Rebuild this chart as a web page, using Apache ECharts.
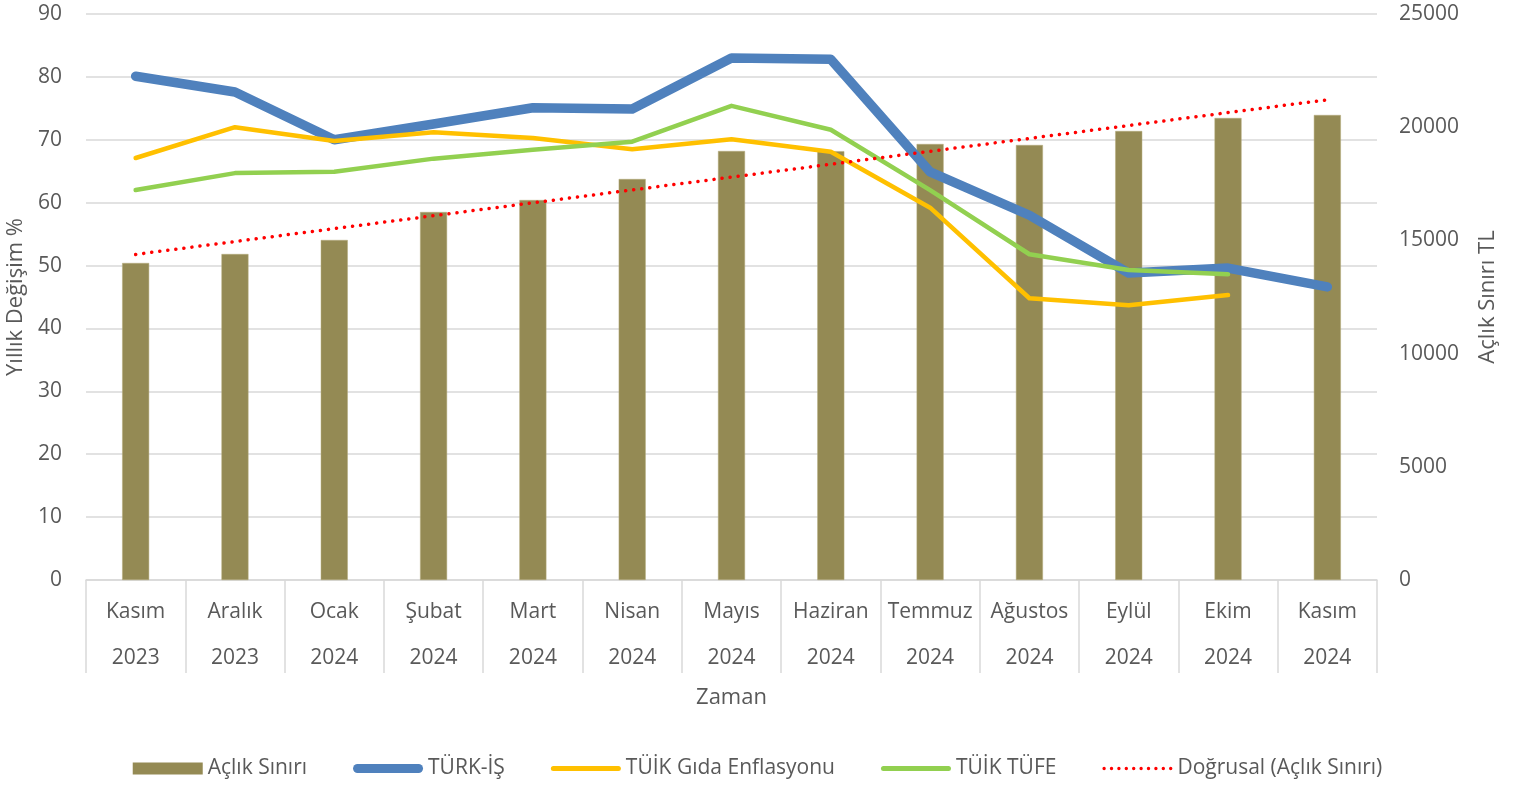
<!DOCTYPE html>
<html>
<head>
<meta charset="utf-8">
<script src="https://cdn.jsdelivr.net/npm/echarts@6/dist/echarts.min.js"></script>
<style>
  html, body { margin: 0; padding: 0; background: #fff; }
  #chart { width: 1515px; height: 788px; }
</style>
</head>
<body>
<div id="chart"></div>
<script>
// veriler (grafikten okunan yaklaşık değerler)
const months = ['Kasım', 'Aralık', 'Ocak', 'Şubat', 'Mart', 'Nisan', 'Mayıs', 'Haziran', 'Temmuz', 'Ağustos', 'Eylül', 'Ekim', 'Kasım'];
const years = ['2023', '2023', '2024', '2024', '2024', '2024', '2024', '2024', '2024', '2024', '2024', '2024', '2024'];
const aclikSiniri = [14003, 14399, 15018, 16254, 16784, 17712, 18949, 18940, 19258, 19214, 19832, 20406, 20539];
const turkIs = [80.1, 77.6, 70.0, 72.5, 75.1, 74.9, 83.0, 82.8, 64.9, 58.0, 48.8, 49.6, 46.6];
const gidaEnflasyonu = [67.1, 72.0, 69.8, 71.2, 70.3, 68.5, 70.1, 68.1, 59.2, 44.8, 43.7, 45.3, null];
const tufe = [62.0, 64.7, 64.9, 67.0, 68.4, 69.7, 75.4, 71.6, 62.0, 51.8, 49.3, 48.6, null];
const dogrusal = [14380, 14950, 15520, 16090, 16660, 17230, 17795, 18365, 18935, 19505, 20075, 20645, 21210];

const textColor = '#595959';
const gridColor = '#d9d9d9';
const fontFamily = '"Open Sans", "Noto Sans", sans-serif';

// legend simgeleri
const thickLine = 'path://M4.5,0 L65.5,0 A4.5,4.5 0 0 1 65.5,9 L4.5,9 A4.5,4.5 0 0 1 4.5,0 Z';
const thinLine = 'path://M2.5,0 L67.5,0 A2.5,2.5 0 0 1 67.5,5 L2.5,5 A2.5,2.5 0 0 1 2.5,0 Z';
let dots = 'path://';
for (let i = 0; i < 10; i++) {
    const x = i * 7.4;
    dots += 'M' + x + ',1.7 a1.7,1.7 0 1 0 3.4,0 a1.7,1.7 0 1 0 -3.4,0 Z ';
}

const chart = echarts.init(document.getElementById('chart'));

const option = {
    animation: false,
    textStyle: { fontFamily: fontFamily, color: textColor },
    grid: { left: 86, right: 138, top: 14, bottom: 208, outerBoundsMode: 'none' },
    legend: {
        top: 753,
        left: 'center',
        itemWidth: 70,
        itemHeight: 12,
        itemGap: 46,
        itemStyle: { borderWidth: 0 },
        textStyle: { fontSize: 21, color: textColor, fontFamily: fontFamily },
        data: [
            { name: 'Açlık Sınırı', icon: 'rect' },
            { name: 'TÜRK-İŞ', icon: thickLine },
            { name: 'TÜİK Gıda Enflasyonu', icon: thinLine },
            { name: 'TÜİK TÜFE', icon: thinLine },
            { name: 'Doğrusal (Açlık Sınırı)', icon: dots }
        ]
    },
    xAxis: {
        type: 'category',
        data: months.map((m, i) => m + '\n' + years[i]),
        boundaryGap: true,
        name: 'Zaman',
        nameLocation: 'middle',
        nameGap: 107,
        nameTextStyle: { fontSize: 22, color: textColor },
        axisLine: { lineStyle: { color: gridColor, width: 1.5 } },
        axisTick: { show: true, interval: 0, length: 93, lineStyle: { color: gridColor, width: 1.5 } },
        axisLabel: { interval: 0, fontSize: 21, color: textColor, lineHeight: 46, margin: 9 }
    },
    yAxis: [
        {
            type: 'value',
            min: 0,
            max: 90,
            interval: 10,
            name: 'Yıllık Değişim %',
            nameLocation: 'middle',
            nameRotate: 90,
            nameGap: 59,
            nameTextStyle: { fontSize: 22, color: textColor },
            axisLabel: { fontSize: 21, color: textColor, margin: 24 },
            splitLine: { lineStyle: { color: gridColor, width: 1.5 } }
        },
        {
            type: 'value',
            min: 0,
            max: 25000,
            interval: 5000,
            name: 'Açlık Sınırı TL',
            nameLocation: 'middle',
            nameRotate: 90,
            nameGap: 100,
            nameTextStyle: { fontSize: 22, color: textColor },
            axisLabel: { fontSize: 21, color: textColor, margin: 22, formatter: v => String(v) },
            splitLine: { show: false }
        }
    ],
    series: [
        {
            name: 'Açlık Sınırı',
            type: 'bar',
            yAxisIndex: 1,
            data: aclikSiniri,
            barWidth: 27,
            itemStyle: { color: '#948A54', borderColor: '#b5ab7a', borderWidth: 0.5 }
        },
        {
            name: 'TÜRK-İŞ',
            type: 'line',
            yAxisIndex: 0,
            data: turkIs,
            symbol: 'none',
            lineStyle: { color: '#4F81BD', width: 9.5, cap: 'round', join: 'round' },
            itemStyle: { color: '#4F81BD' }
        },
        {
            name: 'TÜİK Gıda Enflasyonu',
            type: 'line',
            yAxisIndex: 0,
            data: gidaEnflasyonu,
            symbol: 'none',
            lineStyle: { color: '#FFC000', width: 4.5, cap: 'round', join: 'round' },
            itemStyle: { color: '#FFC000' }
        },
        {
            name: 'TÜİK TÜFE',
            type: 'line',
            yAxisIndex: 0,
            data: tufe,
            symbol: 'none',
            lineStyle: { color: '#92D050', width: 4.5, cap: 'round', join: 'round' },
            itemStyle: { color: '#92D050' }
        },
        {
            name: 'Doğrusal (Açlık Sınırı)',
            type: 'line',
            yAxisIndex: 1,
            data: dogrusal,
            symbol: 'none',
            lineStyle: { color: '#FF0000', width: 3.5, type: [0.1, 8], cap: 'round' },
            itemStyle: { color: '#FF0000' }
        }
    ]
};

chart.setOption(option);
</script>
</body>
</html>
